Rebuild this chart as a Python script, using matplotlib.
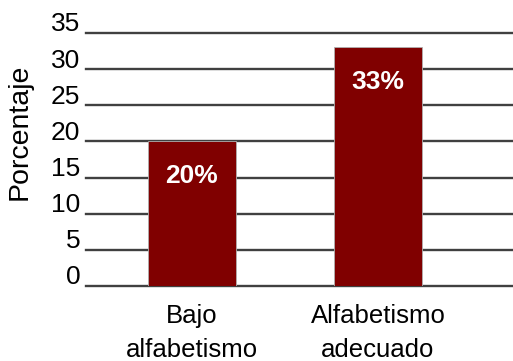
import matplotlib.pyplot as plt
import matplotlib.transforms as mtransforms
import numpy as np

plt.rcParams['font.family'] = ['Liberation Sans', 'DejaVu Sans']

categories = ["Bajo\nalfabetismo", "Alfabetismo\nadecuado"]
values = [20, 33]
labels = ["20%", "33%"]
yticks = [0, 5, 10, 15, 20, 25, 30, 35]

fig = plt.figure(figsize=(5.13, 3.61), dpi=100)
ax = fig.add_axes([0.1676, 0.2078, 0.8324, 0.7008])

x = np.arange(len(categories))
for y in yticks:
    ax.axhline(y, color='#404040', linewidth=1.7, zorder=1, clip_on=False)
ax.bar(x, values, width=0.47, color='#800000', edgecolor='#b0b0b0', linewidth=0.6, zorder=2)

# percent labels inside the bars
for xi, v, lab in zip(x, values, labels):
    ax.annotate(lab, (xi, v), xytext=(0, -25), textcoords='offset points',
                ha='center', va='center', color='white', fontsize=19, fontweight='bold')

ax.set_xlim(-0.57, 1.726)
ax.set_ylim(0, 35)
ax.set_yticks(yticks)
ax.set_xticks(x)
ax.set_xticklabels(categories, fontsize=18.5, linespacing=1.5)
ax.tick_params(axis='y', labelsize=19, length=0, pad=4)
ax.tick_params(axis='x', length=0, pad=13)
for s in ax.spines.values():
    s.set_visible(False)

# tick labels sit above their gridlines
offset = mtransforms.ScaledTranslation(0, 11 / 100, fig.dpi_scale_trans)
for lab in ax.get_yticklabels():
    lab.set_transform(lab.get_transform() + offset)

ax.set_ylabel("Porcentaje", fontsize=20.5)
ax.yaxis.set_label_coords(-0.124, 0.609)

fig.savefig("out.png", dpi=100)
